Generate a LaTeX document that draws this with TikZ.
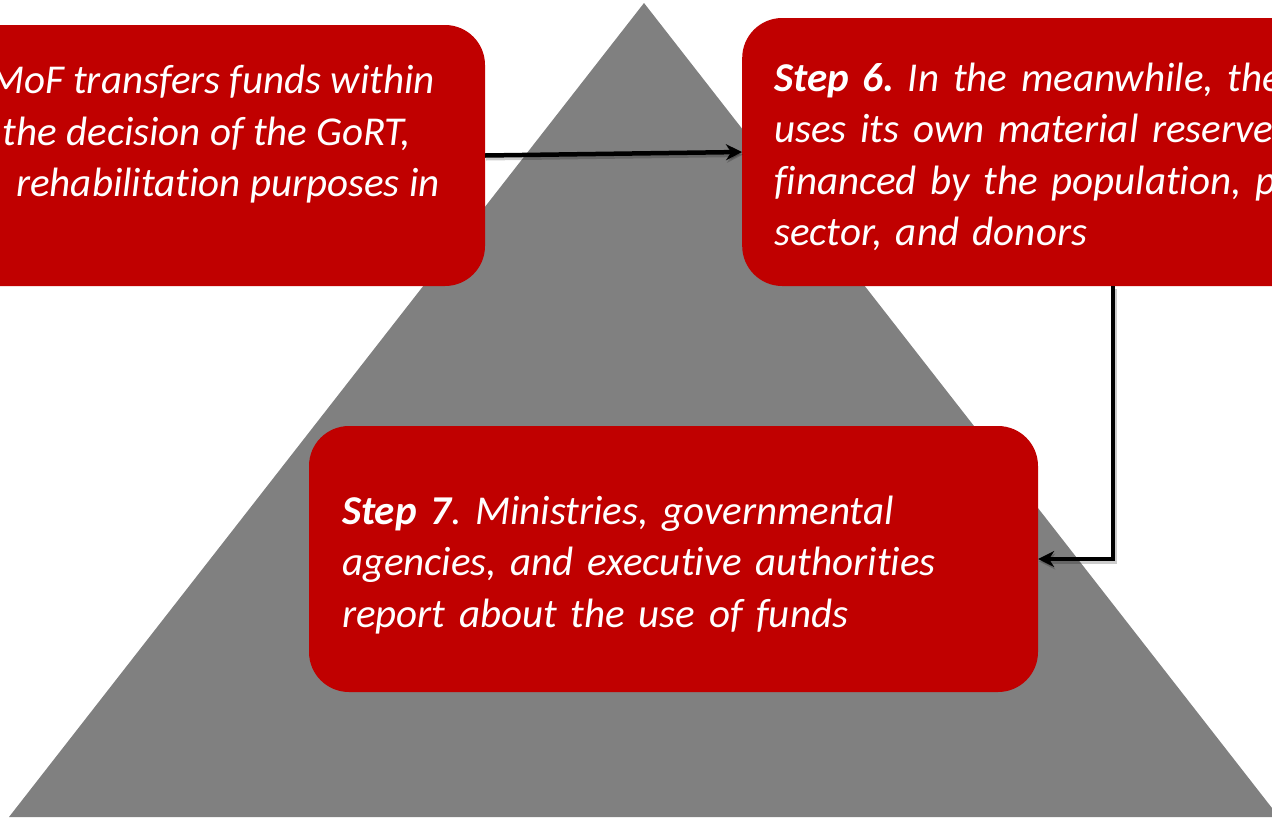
\documentclass[tikz,border=0pt]{standalone}
\usepackage{fontspec}
\setmainfont{Carlito}[Ligatures=NoCommon]
\usepackage{xcolor}
\usetikzlibrary{arrows.meta}
\definecolor{stepred}{HTML}{C00000}
\definecolor{pyramidgray}{HTML}{808080}
\frenchspacing

\begin{document}
\begin{tikzpicture}[
  x=1pt, y=-1pt,
  every node/.style={font=\fontsize{41}{51.5}\selectfont\itshape, text=white},
  stepbox/.style={fill=stepred, rounded corners=40pt, align=left},
  txt/.style={inner sep=0pt},
  arr/.style={-{Stealth[length=16pt, width=16pt]}, line width=4.5pt, black,
              preaction={draw=black, opacity=0.2, line width=5pt,
                         transform canvas={shift={(1pt,-2.5pt)}}}}
]
\useasboundingbox (0,0) rectangle (1272,817);

% pyramid in the background
\fill[pyramidgray] (644,3) -- (9,817) -- (1279,817) -- cycle;

% step 5 (runs off the left side)
\node[stepbox, minimum width=800pt, minimum height=261pt] (lbox) at (85,155.5) {};
\node[txt, anchor=base] (l1) at (212,93)  {MoF transfers funds within};
\node[txt, anchor=base] (l2) at (207,145) {the decision of the GoRT,};
\node[txt, anchor=base] (l3) at (228,196) {rehabilitation purposes in};

% step 6 (runs off the right side)
\node[stepbox, anchor=west, text width=620pt, inner xsep=32pt,
      minimum height=268pt, text height=30pt, text depth=152pt] (rbox) at (742,152)
  {\textbf{Step 6.} In the meanwhile, the\\
   uses its own material reserve\\
   financed by the population, p\\
   sector, and donors};

% step 7
\node[stepbox, text width=663pt, inner xsep=33pt, minimum height=266pt,
      text height=30pt, text depth=100pt] (bbox) at (673.5,559)
  {\textbf{Step 7}. Ministries, governmental\\
   agencies, and executive authorities\\
   report about the use of funds};

% flow between the steps
\draw[arr] (lbox.east) -- (rbox.west);
\draw[arr] ([xshift=371pt]rbox.south west) |- (bbox.east);
\end{tikzpicture}
\end{document}
